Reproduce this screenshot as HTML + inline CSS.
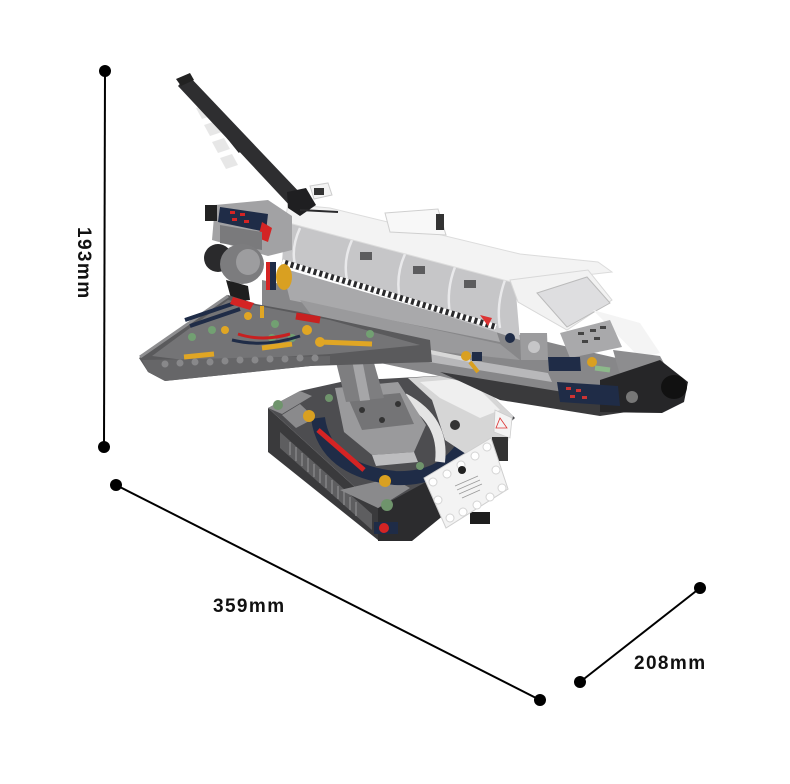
<!DOCTYPE html>
<html><head><meta charset="utf-8"><style>
html,body{margin:0;padding:0;background:#fff;}
svg{display:block;}
.lbl{font-family:"Liberation Sans","Noto Sans CJK SC",sans-serif;font-weight:bold;font-size:19px;letter-spacing:1.4px;fill:#111;}
</style></head><body>
<svg width="790" height="784" viewBox="0 0 790 784" xmlns="http://www.w3.org/2000/svg">
<rect width="790" height="784" fill="#fff"/>

<!-- ===== BASE ===== -->
<polygon points="268,408 378,508 378,540 268,452" fill="#3a3a3c"/>
<polygon points="280,432 372,514 372,530 280,448" fill="#5e5e60"/>
<g stroke="#8a8a8c" stroke-width="1.3">
<line x1="290" y1="442" x2="290" y2="455"/><line x1="296" y1="447" x2="296" y2="461"/><line x1="302" y1="453" x2="302" y2="466"/>
<line x1="308" y1="458" x2="308" y2="472"/><line x1="314" y1="464" x2="314" y2="477"/><line x1="320" y1="469" x2="320" y2="483"/>
<line x1="326" y1="475" x2="326" y2="488"/><line x1="332" y1="480" x2="332" y2="494"/><line x1="338" y1="486" x2="338" y2="499"/>
<line x1="344" y1="491" x2="344" y2="505"/><line x1="350" y1="497" x2="350" y2="510"/><line x1="356" y1="502" x2="356" y2="516"/>
</g>
<polygon points="378,508 472,455 472,492 412,541 378,541" fill="#2c2c2e"/>
<polygon points="268,408 300,391 345,381 470,374 515,418 470,458 378,508" fill="#4d4d50"/>
<polygon points="268,408 300,391 312,396 282,414" fill="#8d8d8f"/>
<polygon points="340,490 378,508 410,488 392,478" fill="#8a8a8c"/>
<polygon points="282,415 300,404 315,418 296,428" fill="#8a8a8c"/>
<path d="M318 418 Q 325 470 395 478 Q 440 480 462 448" fill="none" stroke="#1f2c47" stroke-width="14"/>
<polygon points="408,378 470,374 513,416 506,452 472,458 445,440 432,400" fill="#d6d6d6"/>
<polygon points="420,382 468,378 500,410 480,418 440,398" fill="#efefef"/>
<path d="M404 398 Q 445 420 440 462" fill="none" stroke="#e4e4e4" stroke-width="10"/>
<polygon points="335,388 398,382 426,425 414,452 372,455 344,432" fill="#9a9a9c"/>
<polygon points="348,398 400,393 414,424 362,430" fill="#747476"/>
<circle cx="362" cy="410" r="3" fill="#333"/><circle cx="382" cy="420" r="3" fill="#333"/><circle cx="398" cy="404" r="3" fill="#333"/>
<polygon points="372,455 414,452 418,462 376,466" fill="#bdbdbf"/>
<line x1="318" y1="430" x2="364" y2="470" stroke="#d42424" stroke-width="5"/>
<circle cx="309" cy="416" r="6" fill="#d9a021"/>
<circle cx="385" cy="481" r="6" fill="#d9a021"/>
<circle cx="278" cy="405" r="5" fill="#6f946c"/>
<circle cx="387" cy="505" r="6" fill="#6f946c"/>
<circle cx="329" cy="398" r="4" fill="#6f946c"/>
<circle cx="420" cy="466" r="4" fill="#6f946c"/>
<rect x="374" y="522" width="24" height="12" fill="#1f2c47"/>
<circle cx="384" cy="528" r="5" fill="#d42424"/>
<circle cx="455" cy="425" r="5" fill="#333"/>
<polygon points="495,410 512,418 510,438 494,432" fill="#f4f4f4" stroke="#ccc" stroke-width="0.8"/>
<polygon points="500,418 507,428 496,428" fill="none" stroke="#d33" stroke-width="0.8"/>
<rect x="492" y="437" width="16" height="24" fill="#333"/>
<!-- plaque -->
<rect x="470" y="512" width="20" height="12" fill="#1e1e1e"/>
<polygon points="424,478 491,438 508,489 446,528" fill="#f3f3f3" stroke="#cfcfcf" stroke-width="1"/>
<g fill="#fff" stroke="#d4d4d4" stroke-width="1">
<circle cx="433" cy="482" r="4"/><circle cx="447" cy="474" r="4"/><circle cx="461" cy="465" r="4"/><circle cx="475" cy="456" r="4"/><circle cx="487" cy="447" r="4"/>
<circle cx="450" cy="518" r="4"/><circle cx="463" cy="512" r="4"/><circle cx="477" cy="505" r="4"/><circle cx="490" cy="497" r="4"/><circle cx="502" cy="488" r="4"/>
<circle cx="438" cy="500" r="4"/><circle cx="496" cy="470" r="4"/>
</g>
<circle cx="462" cy="470" r="4" fill="#222"/>
<g stroke="#999" stroke-width="0.7">
<line x1="455" y1="486" x2="478" y2="476"/><line x1="457" y1="490" x2="480" y2="480"/><line x1="459" y1="494" x2="482" y2="484"/><line x1="462" y1="498" x2="480" y2="490"/>
</g>

<!-- ===== PILLAR ===== -->
<polygon points="335,358 372,356 384,398 346,402" fill="#7e7e80"/>
<polygon points="352,360 362,359 370,400 360,401" fill="#a6a6a8"/>

<!-- ===== FUSELAGE ===== -->
<polygon points="262,280 520,335 560,345 625,360 640,410 600,415 520,396 440,376 330,352 262,318" fill="#878789"/>
<polygon points="282,268 496,330 500,342 290,300" fill="#a9a9ab"/>
<polygon points="300,300 500,344 520,360 330,340" fill="#9a9a9c"/>
<polygon points="380,345 548,373 552,382 392,356" fill="#b8b8ba"/>
<polygon points="440,372 600,398 640,410 600,416 500,400" fill="#3a3a3c"/>
<!-- canopy -->
<polygon points="285,222 515,282 520,340 282,262" fill="#c6c6c8"/>
<g fill="none" stroke="#e9e9eb" stroke-width="2.5">
<path d="M300 228 Q 290 250 296 268"/>
<path d="M352 240 Q 342 262 348 284"/>
<path d="M405 254 Q 395 276 400 300"/>
<path d="M455 267 Q 446 290 450 314"/>
<path d="M505 280 Q 496 305 500 328"/>
</g>
<g fill="#5c5c5e">
<rect x="360" y="252" width="12" height="8"/><rect x="413" y="266" width="12" height="8"/><rect x="464" y="280" width="12" height="8"/>
</g>
<line x1="282" y1="262" x2="496" y2="327" stroke="#2a2a2c" stroke-width="6"/>
<line x1="282" y1="262" x2="496" y2="327" stroke="#fff" stroke-width="6" stroke-dasharray="3 3"/>
<polygon points="480,315 492,318 488,326" fill="#d33"/>
<!-- roof -->
<polygon points="288,204 330,208 520,254 598,262 612,272 515,283 285,222" fill="#f3f3f3" stroke="#dcdcdc" stroke-width="1"/>
<polygon points="385,213 438,209 446,235 390,232" fill="#f8f8f8" stroke="#cfcfcf" stroke-width="1"/>
<rect x="436" y="214" width="8" height="16" fill="#333"/>
<!-- cockpit -->
<polygon points="510,280 588,270 612,300 567,330 518,302" fill="#f2f2f2" stroke="#d8d8d8" stroke-width="1"/>
<polygon points="537,293 587,277 610,303 567,327" fill="#dedee0" stroke="#bbb" stroke-width="1"/>
<polygon points="593,310 640,323 660,353 640,358" fill="#f4f4f4"/>
<polygon points="560,333 610,320 622,347 570,358" fill="#a9a9ab"/>
<g fill="#444"><rect x="578" y="332" width="6" height="3"/><rect x="590" y="329" width="6" height="3"/><rect x="582" y="340" width="6" height="3"/><rect x="594" y="337" width="6" height="3"/><rect x="600" y="326" width="6" height="3"/></g>
<polygon points="613,350 660,356 672,378 622,382" fill="#8d8d8f"/>
<polygon points="600,380 660,360 688,382 684,402 662,413 600,412" fill="#262628"/>
<ellipse cx="674" cy="387" rx="13" ry="12" fill="#111"/>
<circle cx="632" cy="397" r="6" fill="#777"/>
<polygon points="520,333 547,333 548,360 521,360" fill="#9c9c9e"/>
<circle cx="534" cy="347" r="6" fill="#c6c6c8"/>
<polygon points="548,357 580,357 581,371 549,371" fill="#1f2c47"/>
<polygon points="557,382 618,386 620,406 560,402" fill="#1f2c47"/>
<g fill="#c33"><rect x="566" y="387" width="5" height="3"/><rect x="576" y="389" width="5" height="3"/><rect x="570" y="395" width="5" height="3"/><rect x="582" y="396" width="5" height="3"/></g>
<circle cx="592" cy="362" r="5" fill="#d9a021"/>
<line x1="595" y1="368" x2="610" y2="370" stroke="#8cb98a" stroke-width="5"/>
<circle cx="510" cy="338" r="5" fill="#1f2c47"/>
<!-- mechanism -->
<line x1="410" y1="348" x2="470" y2="360" stroke="#d8d8d8" stroke-width="4"/>
<circle cx="466" cy="356" r="5" fill="#d9a021"/>
<rect x="472" y="352" width="10" height="9" fill="#1f2c47"/>
<line x1="470" y1="362" x2="478" y2="372" stroke="#d9a021" stroke-width="4"/>

<!-- tail -->
<polygon points="215,205 268,200 292,216 292,250 268,256 212,240" fill="#a2a2a4"/>
<polygon points="220,207 268,214 266,232 218,222" fill="#1f2c47"/>
<g fill="#d42424"><rect x="230" y="211" width="5" height="3"/><rect x="240" y="213" width="5" height="3"/><rect x="232" y="218" width="5" height="3"/><rect x="244" y="220" width="5" height="3"/></g>
<polygon points="262,222 272,228 268,242 258,238" fill="#d42424"/>
<rect x="205" y="205" width="12" height="16" fill="#222"/>
<polygon points="220,225 262,232 262,250 220,243" fill="#7a7a7c"/>
<circle cx="218" cy="258" r="14" fill="#2a2a2c"/>
<ellipse cx="242" cy="264" rx="22" ry="20" fill="#7c7c7e"/>
<ellipse cx="248" cy="262" rx="12" ry="13" fill="#9d9d9f"/>
<polygon points="226,280 248,286 250,300 232,302" fill="#1e1e1e"/>
<rect x="266" y="262" width="10" height="28" fill="#d42424"/>
<rect x="270" y="262" width="6" height="28" fill="#1f2c47"/>
<ellipse cx="284" cy="277" rx="8" ry="13" fill="#d9a021"/>

<!-- ===== WING ===== -->
<polygon points="139,358 228,295 256,304 300,312 430,340 432,362 310,366 165,381 148,372" fill="#5a5a5c"/>
<polygon points="152,356 228,300 330,320 420,345 330,354 200,362" fill="#747476"/>
<line x1="140" y1="357" x2="228" y2="296" stroke="#8e8e90" stroke-width="3"/>
<polygon points="142,360 330,356 330,364 165,381 148,372" fill="#666668"/>
<g fill="#88888a">
<circle cx="165" cy="364" r="3.5"/><circle cx="180" cy="363" r="3.5"/><circle cx="195" cy="362" r="3.5"/><circle cx="210" cy="362" r="3.5"/><circle cx="225" cy="361" r="3.5"/><circle cx="240" cy="360" r="3.5"/><circle cx="255" cy="360" r="3.5"/><circle cx="270" cy="359" r="3.5"/><circle cx="285" cy="359" r="3.5"/><circle cx="300" cy="358" r="3.5"/><circle cx="315" cy="358" r="3.5"/>
</g>
<line x1="185" y1="320" x2="235" y2="303" stroke="#1f2c47" stroke-width="4"/>
<line x1="190" y1="326" x2="240" y2="309" stroke="#1f2c47" stroke-width="4"/>
<polygon points="233,297 254,303 250,310 230,304" fill="#d42424"/>
<line x1="184" y1="357" x2="214" y2="354" stroke="#e0a624" stroke-width="5"/>
<line x1="262" y1="348" x2="292" y2="344" stroke="#e0a624" stroke-width="5"/>
<line x1="320" y1="342" x2="372" y2="344" stroke="#e0a624" stroke-width="5"/>
<circle cx="320" cy="342" r="5" fill="#e0a624"/>
<circle cx="248" cy="316" r="4" fill="#e0a624"/>
<circle cx="225" cy="330" r="4" fill="#e0a624"/>
<circle cx="307" cy="330" r="5" fill="#e0a624"/>
<line x1="262" y1="306" x2="262" y2="318" stroke="#e0a624" stroke-width="4"/>
<g fill="#72a072">
<circle cx="192" cy="337" r="4"/><circle cx="212" cy="330" r="4"/><circle cx="275" cy="324" r="4"/><circle cx="272" cy="338" r="4"/><circle cx="292" cy="338" r="4"/><circle cx="370" cy="334" r="4"/>
</g>
<line x1="296" y1="316" x2="320" y2="320" stroke="#c82020" stroke-width="7"/>
<path d="M238 334 Q 262 342 290 334" fill="none" stroke="#c82020" stroke-width="3"/>
<path d="M232 340 Q 265 348 300 336" fill="none" stroke="#1f2c47" stroke-width="3"/>

<!-- ===== ARM ===== -->
<g fill="#e3e3e3" opacity="0.85">
<polygon points="196,108 208,104 214,115 202,119"/>
<polygon points="204,125 216,121 222,132 210,136"/>
<polygon points="212,142 224,138 230,149 218,153"/>
<polygon points="220,158 232,154 238,165 226,169"/>
</g>
<line x1="190" y1="90" x2="240" y2="152" stroke="#2a2a2c" stroke-width="3"/>
<polygon points="188,75 303,196 292,208 178,86" fill="#2e2e30"/>
<polygon points="176,79 190,73 194,80 181,86" fill="#222"/>
<polygon points="287,192 306,188 316,205 300,216 288,208" fill="#1f1f21"/>
<polygon points="310,186 328,183 332,195 314,199" fill="#f3f3f3" stroke="#ccc" stroke-width="1"/>
<rect x="314" y="188" width="10" height="7" fill="#333"/>
<line x1="300" y1="210" x2="338" y2="212" stroke="#2a2a2c" stroke-width="2"/>

<!-- ===== DIMENSIONS ===== -->
<g stroke="#000" stroke-width="2">
<line x1="105" y1="71" x2="104" y2="447"/>
<line x1="116" y1="485" x2="540" y2="700"/>
<line x1="580" y1="682" x2="700" y2="588"/>
</g>
<g fill="#000">
<circle cx="105" cy="71" r="6"/><circle cx="104" cy="447" r="6"/>
<circle cx="116" cy="485" r="6"/><circle cx="540" cy="700" r="6"/>
<circle cx="580" cy="682" r="6"/><circle cx="700" cy="588" r="6"/>
</g>
<text class="lbl" x="78" y="227" transform="rotate(90 78 227)">193mm</text>
<text class="lbl" x="213" y="612">359mm</text>
<text class="lbl" x="634" y="669">208mm</text>
</svg>
</body></html>
